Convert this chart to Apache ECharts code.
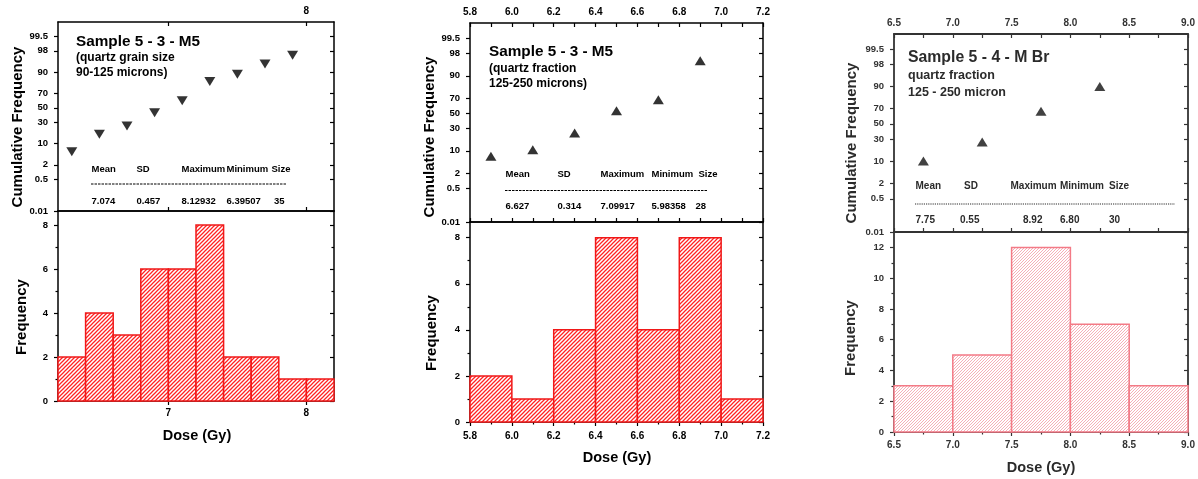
<!DOCTYPE html>
<html>
<head>
<meta charset="utf-8">
<title>Dose distributions</title>
<script src="https://cdn.jsdelivr.net/npm/echarts@6/dist/echarts.min.js"></script>
<style>
  html, body { margin: 0; padding: 0; background: #fff; }
  #chart { width: 1198px; height: 479px; }
</style>
</head>
<body>
<div id="chart"></div>
<script>
// ---------- data ----------
// probability-scale tick labels (cumulative %), axis spans 0.01 % .. 99.9 %
const probTicks = [0.01, 0.5, 2, 10, 30, 50, 70, 90, 98, 99.5];
const probRange = [0.01, 99.9];

const statHeads = ['Mean', 'SD', 'Maximum', 'Minimum', 'Size'];

// Sample 5-3-M5, quartz grain size 90-125 microns
const edgesA  = [6.2, 6.4, 6.6, 6.8, 7.0, 7.2, 7.4, 7.6, 7.8, 8.0, 8.2];
const countsA = [2, 4, 3, 6, 6, 8, 2, 2, 1, 1];
const doseA   = [6.3, 6.5, 6.7, 6.9, 7.1, 7.3, 7.5, 7.7, 7.9];
const cumA    = [5.7, 17.1, 25.7, 42.9, 60.0, 82.9, 88.6, 94.3, 97.1];
const statsA  = ['7.074', '0.457', '8.12932', '6.39507', '35'];
const xMajorA = [7, 8];
const xMinorA = [];
const xTopLabelsA = [8];
const yMajorA = [0, 2, 4, 6, 8];
const yMinorA = [1, 3, 5, 7];

// Sample 5-3-M5, quartz fraction 125-250 microns
const edgesB  = [5.8, 6.0, 6.2, 6.4, 6.6, 6.8, 7.0, 7.2];
const countsB = [2, 1, 4, 8, 4, 8, 1];
const doseB   = [5.9, 6.1, 6.3, 6.5, 6.7, 6.9];
const cumB    = [7.1, 10.7, 25.0, 53.6, 67.9, 96.4];
const statsB  = ['6.627', '0.314', '7.09917', '5.98358', '28'];
const xMajorB = [5.8, 6.0, 6.2, 6.4, 6.6, 6.8, 7.0, 7.2];
const xMinorB = [5.9, 6.1, 6.3, 6.5, 6.7, 6.9, 7.1];
const yMajorB = [0, 2, 4, 6, 8];
const yMinorB = [1, 3, 5, 7];

// Sample 5-4-M Br, quartz fraction 125-250 micron
const edgesC  = [6.5, 7.0, 7.5, 8.0, 8.5, 9.0];
const countsC = [3, 5, 12, 7, 3];
const doseC   = [6.75, 7.25, 7.75, 8.25];
const cumC    = [10.0, 26.7, 66.7, 90.0];
const statsC  = ['7.75', '0.55', '8.92', '6.80', '30'];
const xMajorC = [6.5, 7.0, 7.5, 8.0, 8.5, 9.0];
const xMinorC = [6.75, 7.25, 7.75, 8.25, 8.75];
const yMajorC = [0, 2, 4, 6, 8, 10, 12];
const yMinorC = [1, 3, 5, 7, 9, 11];

// ---------- helpers ----------
// inverse standard normal CDF (Acklam) -> probability axis is linear in z
function probit(p) {
  const a = [-3.969683028665376e+01, 2.209460984245205e+02, -2.759285104469687e+02, 1.383577518672690e+02, -3.066479806614716e+01, 2.506628277459239e+00];
  const b = [-5.447609879822406e+01, 1.615858368580409e+02, -1.556989798598866e+02, 6.680131188771972e+01, -1.328068155288572e+01];
  const c = [-7.784894002430293e-03, -3.223964580411365e-01, -2.400758277161838e+00, -2.549732539343734e+00, 4.374664141464968e+00, 2.938163982698783e+00];
  const d = [7.784695709041462e-03, 3.224671290700398e-01, 2.445134137142996e+00, 3.754408661907416e+00];
  const pl = 0.02425, ph = 1 - pl;
  let q, r;
  if (p < pl) {
    q = Math.sqrt(-2 * Math.log(p));
    return (((((c[0]*q+c[1])*q+c[2])*q+c[3])*q+c[4])*q+c[5]) / ((((d[0]*q+d[1])*q+d[2])*q+d[3])*q+1);
  }
  if (p > ph) {
    q = Math.sqrt(-2 * Math.log(1 - p));
    return -(((((c[0]*q+c[1])*q+c[2])*q+c[3])*q+c[4])*q+c[5]) / ((((d[0]*q+d[1])*q+d[2])*q+d[3])*q+1);
  }
  q = p - 0.5; r = q * q;
  return (((((a[0]*r+a[1])*r+a[2])*r+a[3])*r+a[4])*r+a[5])*q / (((((b[0]*r+b[1])*r+b[2])*r+b[3])*r+b[4])*r+1);
}
const pz = pct => probit(pct / 100);
const probZ = probTicks.map(pz);
const probFmt = v => {
  let best = 0;
  probZ.forEach((z, i) => { if (Math.abs(z - v) < Math.abs(probZ[best] - v)) best = i; });
  return String(probTicks[best]);
};

// diagonal "////" hatch used to fill the histogram bars
function hatch(color, step, lw) {
  const cv = document.createElement('canvas');
  cv.width = cv.height = step;
  const g = cv.getContext('2d');
  g.fillStyle = '#fff';
  g.fillRect(0, 0, step, step);
  g.strokeStyle = color;
  g.lineWidth = lw;
  g.beginPath();
  g.moveTo(-1, step + 1); g.lineTo(step + 1, -1);
  g.moveTo(-1, 1); g.lineTo(1, -1);
  g.moveTo(step - 1, step + 1); g.lineTo(step + 1, step - 1);
  g.stroke();
  return { image: cv, repeat: 'repeat' };
}

const FONT = '"Liberation Sans", Arial, sans-serif';

const panels = [
  { left: 58, width: 276, top: 22, mid: 211, bottom: 401, xMin: 6.2, xMax: 8.2, fMax: 8.64,
    edges: edgesA, counts: countsA, dose: doseA, cum: cumA,
    xMajor: xMajorA, xMinor: xMinorA, xTopLabels: xTopLabelsA, yMajor: yMajorA, yMinor: yMinorA,
    xFmt: v => String(Math.round(v)), symbolRotate: 180,
    ink: '#000', txt: '#000', barStroke: '#f01818', hatch: hatch('#f22', 4, 1.25),
    botMargin: 7, lineW: 1.5 },
  { left: 470, width: 293, top: 23, mid: 222, bottom: 422, xMin: 5.8, xMax: 7.2, fMax: 8.68,
    edges: edgesB, counts: countsB, dose: doseB, cum: cumB,
    xMajor: xMajorB, xMinor: xMinorB, xTopLabels: xMajorB, yMajor: yMajorB, yMinor: yMinorB,
    xFmt: v => v.toFixed(1), symbolRotate: 0,
    ink: '#000', txt: '#000', barStroke: '#f01818', hatch: hatch('#f22', 4, 1.25),
    botMargin: 9, lineW: 1.5 },
  { left: 894, width: 294, top: 34, mid: 232, bottom: 432, xMin: 6.5, xMax: 9.0, fMax: 13,
    edges: edgesC, counts: countsC, dose: doseC, cum: cumC,
    xMajor: xMajorC, xMinor: xMinorC, xTopLabels: xMajorC, yMajor: yMajorC, yMinor: yMinorC,
    xFmt: v => v.toFixed(1), symbolRotate: 0,
    ink: '#333', txt: '#2b2b2b', barStroke: '#f37a86', hatch: hatch('rgba(236,110,125,0.55)', 3, 1),
    botMargin: 8, lineW: 1.8 }
];

// ---------- axes / grids / series ----------
const grids = [], xAxes = [], yAxes = [], series = [], ghostX = [], ghostY = [];

function axis(gridIndex, position, min, max, ink, lw, o) {
  return {
    type: 'value', gridIndex, position, min, max,
    axisLine: { show: o.line !== false, onZero: false, lineStyle: { color: ink, width: lw } },
    axisTick: { show: !!o.ticks, customValues: o.ticks, inside: !!o.inside, length: o.len || 4,
                lineStyle: { color: ink, width: 1.2 } },
    axisLabel: { show: !!o.labels, customValues: o.labels, formatter: o.fmt, margin: o.margin || 8,
                 color: ink, fontFamily: FONT, fontWeight: 'bold', fontSize: o.fs || 10 },
    splitLine: { show: false }, minorTick: { show: false }, splitArea: { show: false }
  };
}

panels.forEach((P, i) => {
  const gU = 2 * i, gL = 2 * i + 1;
  grids.push({ left: P.left, width: P.width, top: P.top, height: P.mid - P.top });
  grids.push({ left: P.left, width: P.width, top: P.mid, height: P.bottom - P.mid });
  const zMin = pz(probRange[0]), zMax = pz(probRange[1]);
  const xt = P.xMajor.concat(P.xMinor);

  // upper (probability) panel: bottom & top x, left & right y
  xAxes.push(axis(gU, 'bottom', P.xMin, P.xMax, P.ink, P.lineW, { ticks: xt, inside: true, len: 4 }));
  xAxes.push(axis(gU, 'top', P.xMin, P.xMax, P.ink, P.lineW,
    { ticks: xt, inside: true, len: 4, labels: P.xTopLabels, fmt: P.xFmt, margin: 6 }));
  yAxes.push(axis(gU, 'left', zMin, zMax, P.ink, P.lineW,
    { ticks: probZ, len: 4, labels: probZ, fmt: probFmt, margin: 10, fs: 9.5 }));
  yAxes.push(axis(gU, 'right', zMin, zMax, P.ink, P.lineW, { ticks: probZ, inside: true, len: 4 }));

  // lower (histogram) panel
  xAxes.push(axis(gL, 'bottom', P.xMin, P.xMax, P.ink, P.lineW,
    { ticks: P.xMajor, len: 4, labels: P.xMajor, fmt: P.xFmt, margin: P.botMargin }));
  xAxes.push(axis(gL, 'top', P.xMin, P.xMax, P.ink, P.lineW, {}));
  yAxes.push(axis(gL, 'left', 0, P.fMax, P.ink, P.lineW,
    { ticks: P.yMajor, len: 4, labels: P.yMajor, fmt: v => String(Math.round(v)), margin: 10, fs: 9.5 }));
  yAxes.push(axis(gL, 'right', 0, P.fMax, P.ink, P.lineW, { ticks: P.yMajor, inside: true, len: 4 }));

  // shorter minor ticks drawn on line-less companion axes
  if (P.xMinor.length) {
    ghostX.push(axis(gL, 'bottom', P.xMin, P.xMax, P.ink, P.lineW, { ticks: P.xMinor, len: 2.5, line: false }));
  }
  ghostY.push(axis(gL, 'left', 0, P.fMax, P.ink, P.lineW, { ticks: P.yMinor, len: 2.5, line: false }));
  ghostY.push(axis(gL, 'right', 0, P.fMax, P.ink, P.lineW, { ticks: P.yMinor, inside: true, len: 2.5, line: false }));

  // histogram bars
  const bins = P.counts.map((n, k) => [P.edges[k], P.edges[k + 1], n]);
  series.push({
    type: 'custom', xAxisIndex: 4 * i + 2, yAxisIndex: 4 * i + 2, data: bins,
    encode: { x: [0, 1], y: 2 }, clip: false, silent: true,
    renderItem: (params, api) => {
      const a = api.coord([api.value(0), 0]);
      const b = api.coord([api.value(1), api.value(2)]);
      return { type: 'rect',
        shape: { x: a[0], y: b[1], width: b[0] - a[0], height: a[1] - b[1] },
        style: { fill: P.hatch, stroke: P.barStroke, lineWidth: 1.5 } };
    }
  });

  // cumulative frequency on the probability scale
  series.push({
    type: 'scatter', xAxisIndex: 4 * i, yAxisIndex: 4 * i, silent: true,
    data: P.dose.map((x, k) => [x, pz(P.cum[k])]),
    symbol: 'triangle', symbolSize: [11, 9], symbolRotate: P.symbolRotate,
    itemStyle: { color: P.ink === '#000' ? '#000' : '#111' }
  });
});

// ---------- annotations ----------
const graphic = [];
function text(x, y, str, size, color, extra) {
  graphic.push(Object.assign({
    type: 'text', x, y, silent: true,
    style: { text: str, fill: color, fontFamily: FONT, fontWeight: 'bold', fontSize: size,
             align: 'left', verticalAlign: 'middle' }
  }, extra || {}));
}
function vtext(x, y, str, size, color) {
  graphic.push({ type: 'text', x, y, rotation: Math.PI / 2, silent: true,
    style: { text: str, fill: color, fontFamily: FONT, fontWeight: 'bold', fontSize: size,
             align: 'center', verticalAlign: 'middle' } });
}
function ctext(x, y, str, size, color) {
  graphic.push({ type: 'text', x, y, silent: true,
    style: { text: str, fill: color, fontFamily: FONT, fontWeight: 'bold', fontSize: size,
             align: 'center', verticalAlign: 'middle' } });
}
function dash(x1, x2, y, color, pattern) {
  graphic.push({ type: 'line', silent: true, shape: { x1, y1: y, x2, y2: y },
    style: { stroke: color, lineWidth: 1, lineDash: pattern } });
}

// sample labels
const notes = [
  { title: 'Sample 5 - 3 - M5', sub: ['(quartz grain size', '90-125 microns)'],
    tx: 76, ty: [41.5, 58, 72.5], ts: 15.3, ss: 12 },
  { title: 'Sample 5 - 3 - M5', sub: ['(quartz fraction', '125-250 microns)'],
    tx: 489, ty: [51.5, 69, 83.5], ts: 15.3, ss: 12 },
  { title: 'Sample 5 - 4 - M Br', sub: ['quartz fraction', '125 - 250 micron'],
    tx: 908, ty: [57.5, 75.5, 92.5], ts: 15.8, ss: 12.5 }
];
const statRows = [
  { vals: statsA, hy: 169, dy: 184, vy: 201, hx: [91.5, 136.5, 181.5, 226.5, 271.5],
    vx: [91.5, 136.5, 181.5, 226.5, 274], dx: [91, 286], fs: 9.5, pat: [2.5, 1] },
  { vals: statsB, hy: 174, dy: 190.5, vy: 206.5, hx: [505.5, 557.5, 600.5, 651.5, 698.5],
    vx: [505.5, 557.5, 600.5, 651.5, 695.5], dx: [505, 707], fs: 9.5, pat: [2.5, 1] },
  { vals: statsC, hy: 186.5, dy: 204, vy: 220, hx: [915.5, 964, 1010.5, 1060, 1109],
    vx: [915.5, 960, 1023, 1060, 1109], dx: [915, 1175], fs: 10, pat: [1.2, 1] }
];
const axisTitles = [
  { cum: [18, 127], freq: [22, 317], dose: [197, 436], fs: 15 },
  { cum: [430, 137], freq: [432, 333], dose: [617, 458], fs: 15 },
  { cum: [852, 143], freq: [851, 338], dose: [1041, 468], fs: 15 }
];

panels.forEach((P, i) => {
  const N = notes[i], S = statRows[i], T = axisTitles[i];
  text(N.tx, N.ty[0], N.title, N.ts, P.txt);
  text(N.tx, N.ty[1], N.sub[0], N.ss, P.txt);
  text(N.tx, N.ty[2], N.sub[1], N.ss, P.txt);
  statHeads.forEach((h, k) => text(S.hx[k], S.hy, h, S.fs, P.txt));
  S.vals.forEach((v, k) => text(S.vx[k], S.vy, v, S.fs, P.txt));
  dash(S.dx[0], S.dx[1], S.dy, P.txt, S.pat);
  vtext(T.cum[0], T.cum[1], 'Cumulative Frequency', T.fs, P.txt);
  vtext(T.freq[0], T.freq[1], 'Frequency', T.fs, P.txt);
  ctext(T.dose[0], T.dose[1], 'Dose (Gy)', 14.5, P.txt);
});

const chart = echarts.init(document.getElementById('chart'), null, { renderer: 'canvas' });
chart.setOption({
  animation: false,
  backgroundColor: '#fff',
  grid: grids,
  xAxis: xAxes.concat(ghostX),
  yAxis: yAxes.concat(ghostY),
  series,
  graphic
});
</script>
</body>
</html>
